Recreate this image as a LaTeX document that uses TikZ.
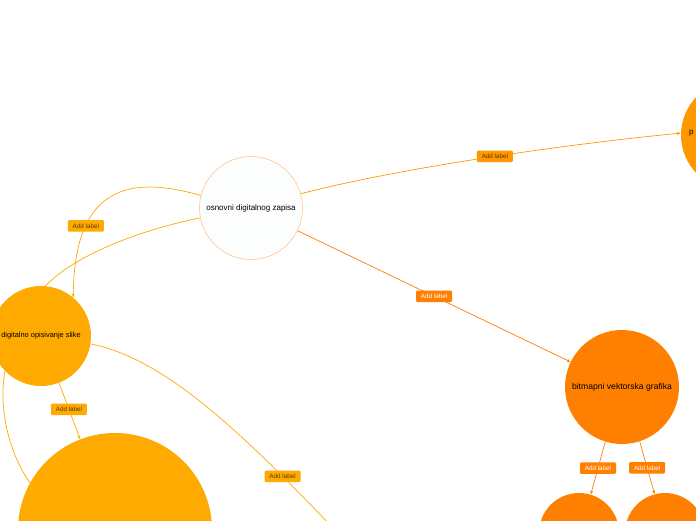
\documentclass[tikz,border=0pt]{standalone}
\usepackage{fontspec}
\setmainfont{Liberation Sans}
\usetikzlibrary{arrows.meta}
\definecolor{amber}{HTML}{FFAA00}
\definecolor{dorange}{HTML}{FF9800}
\definecolor{orng}{HTML}{FF7F00}
\definecolor{cborder}{HTML}{FFC68C}
\definecolor{cfill}{HTML}{FCFDFD}
\definecolor{lbltext}{HTML}{5C3A00}
\tikzset{
  topic/.style={circle, inner sep=0pt, text=black, font=\fontsize{8}{9}\selectfont},
  conn/.style={line width=0.7pt},
  arr/.style={-{Stealth[length=4pt,width=3pt]}},
  lbl/.style={rounded corners=1.2pt, inner sep=0pt, minimum width=36pt, minimum height=11.5pt, font=\fontsize{6.3}{7}\selectfont},
  lblA/.style={lbl, fill=amber, text=lbltext},
  lblD/.style={lbl, fill=dorange, text=lbltext},
  lblO/.style={lbl, fill=orng, text=white},
}
\begin{document}
\begin{tikzpicture}[x=1pt,y=-1pt]
\useasboundingbox (0,0) rectangle (696,520);
\clip (0,0) rectangle (696,520);
\fill[white] (0,0) rectangle (696,520);
% nodes
\node[topic, draw=cborder, line width=0.6pt, fill=cfill, minimum size=103pt] (c) at (251,208) {osnovni digitalnog zapisa};
\node[topic, fill=dorange, minimum size=110pt] (tr) at (736,135) {};
\node[font=\fontsize{8}{9}\selectfont, anchor=west, inner sep=0pt] (trt) at (689,133) {p};
\node[topic, fill=amber, minimum size=100pt, font=\fontsize{7.4}{8}\selectfont] (d) at (41,336) {digitalno opisivanje slike};
\node[topic, fill=amber, minimum size=194pt] (B) at (115,530) {};
\node[topic, fill=orng, minimum size=114pt, font=\fontsize{8.6}{9}\selectfont] (b) at (622,387) {bitmapni vektorska grafika};
\node[topic, fill=orng, minimum size=80pt] (bl) at (579,533) {};
\node[topic, fill=orng, minimum size=80pt] (br) at (665,533) {};
\coordinate (off) at (332,527);
% connectors
\draw[conn, dorange, arr] (c.16) .. controls (400,168) and (560,145) .. (tr.178)
  node[lblD, pos=0.53] {Add label};
\draw[conn, orng, arr] (c.-26) -- (b.154) node[lblO, pos=0.5] {Add label};
\draw[conn, amber, arr] (c.166) .. controls (120,172) and (74,195) .. (d.50)
  node[lblA, pos=0.7] {Add label};
\draw[conn, amber] (c.191) .. controls (140,230) and (75,255) .. (d.85);
\draw[conn, amber, arr] (d.-69) -- (B.111) node[lblA, pos=0.47] {Add label};
\draw[conn, amber] (d.-9) .. controls (160,358) and (230,420) .. (off)
  node[lblA, pos=0.83] {Add label};
\draw[conn, amber] (d.224) .. controls (-2,410) and (10,455) .. (B.151);
\draw[conn, orng, arr] (b.-107) -- (bl.73) node[lblO, pos=0.5] {Add label};
\draw[conn, orng, arr] (b.-72) -- (br.105) node[lblO, pos=0.5] {Add label};
\end{tikzpicture}
\end{document}
